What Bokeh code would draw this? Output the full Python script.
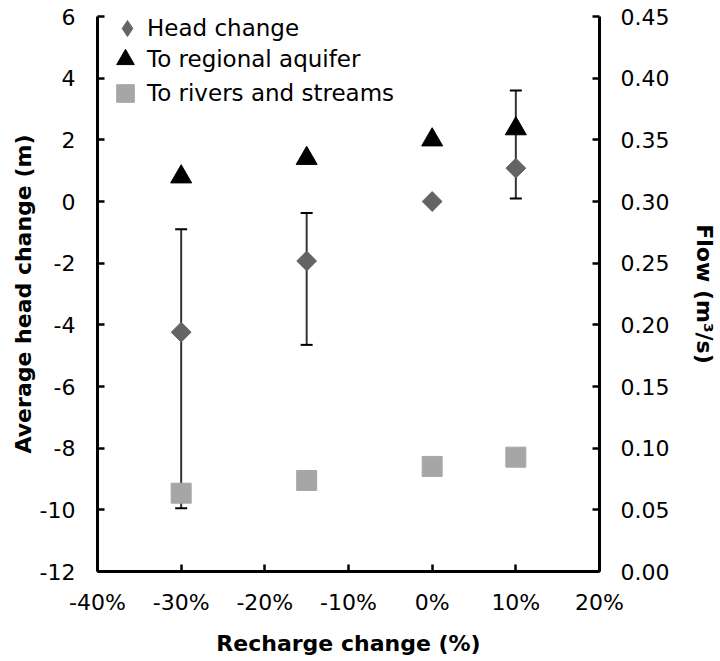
import math
from bokeh.plotting import figure
from bokeh.models import (Range1d, LinearAxis, FixedTicker, NumeralTickFormatter,
                          ColumnDataSource, Whisker, TeeHead, Legend, LegendItem)
from bokeh.embed import file_html
from bokeh.resources import INLINE

# ---- data ----
recharge = [-0.30, -0.15, 0.00, 0.10]
head_change = [-4.24, -1.93, 0.00, 1.08]
head_upper = [-0.90, -0.37, 0.00, 3.60]
head_lower = [-9.95, -4.65, 0.00, 0.10]
to_regional = [0.320, 0.335, 0.350, 0.359]
to_rivers = [0.0635, 0.0738, 0.0852, 0.0927]

x_ticks = [-0.40, -0.30, -0.20, -0.10, 0.00, 0.10, 0.20]
head_ticks = [-12, -10, -8, -6, -4, -2, 0, 2, 4, 6]
flow_ticks = [0.00, 0.05, 0.10, 0.15, 0.20, 0.25, 0.30, 0.35, 0.40, 0.45]

FONT = "DejaVu Sans"
TICK_SIZE = "22px"
TITLE_SIZE = "22px"
LEGEND_SIZE = "23px"
HEAD_COLOR = "#646464"
RIVER_COLOR = "#A6A6A6"

p = figure(width=720, height=661,
           x_range=Range1d(-0.40, 0.20), y_range=Range1d(-12, 6),
           output_backend="svg", toolbar_location=None,
           min_border_left=97, min_border_right=119,
           min_border_top=16, min_border_bottom=90)
p.extra_y_ranges = {"flow": Range1d(0, 0.45)}
p.grid.visible = False
p.outline_line_color = None
p.background_fill_color = "white"
p.border_fill_color = "white"

right_axis = LinearAxis(y_range_name="flow")
p.add_layout(right_axis, "right")

p.xaxis.ticker = FixedTicker(ticks=x_ticks)
p.xaxis.formatter = NumeralTickFormatter(format="0%")
p.yaxis[0].ticker = FixedTicker(ticks=head_ticks)
p.yaxis[0].formatter = NumeralTickFormatter(format="0")
right_axis.ticker = FixedTicker(ticks=flow_ticks)
right_axis.formatter = NumeralTickFormatter(format="0.00")

p.xaxis.axis_label = "Recharge change (%)"
p.yaxis[0].axis_label = "Average head change (m)"
right_axis.axis_label = "Flow (m³/s)"

for ax in [p.xaxis[0], p.yaxis[0], right_axis]:
    ax.axis_line_width = 3
    ax.axis_line_color = "black"
    ax.major_tick_line_width = 2.5
    ax.major_tick_line_color = "black"
    ax.major_tick_in = 7
    ax.major_tick_out = 0
    ax.minor_tick_line_color = None
    ax.major_label_text_font = FONT
    ax.major_label_text_font_size = TICK_SIZE
    ax.major_label_text_color = "black"
    ax.axis_label_text_font = FONT
    ax.axis_label_text_font_size = TITLE_SIZE
    ax.axis_label_text_font_style = "bold"
    ax.axis_label_text_color = "black"

p.xaxis.major_label_standoff = 18
p.xaxis.axis_label_standoff = 13
p.yaxis[0].major_label_standoff = 22
p.yaxis[0].axis_label_standoff = 1
right_axis.major_label_standoff = 21
right_axis.axis_label_standoff = 20

# error bars (only where there is a spread)
eb_idx = [i for i in range(len(recharge)) if head_upper[i] != head_lower[i]]
eb_src = ColumnDataSource(dict(
    base=[recharge[i] for i in eb_idx],
    upper=[head_upper[i] for i in eb_idx],
    lower=[head_lower[i] for i in eb_idx],
))
whisk = Whisker(source=eb_src, base="base", upper="upper", lower="lower",
                line_color="#333333", line_width=2, level="underlay",
                upper_head=TeeHead(size=12, line_width=2, line_color="black"),
                lower_head=TeeHead(size=12, line_width=2, line_color="black"))
p.add_layout(whisk)

# narrow diamonds fully covered by the rotated squares; used for the legend swatch
r_head_leg = p.scatter(recharge, head_change, marker="diamond", size=18,
                       fill_color=HEAD_COLOR, line_color=HEAD_COLOR)
r_head = p.scatter(recharge, head_change, marker="square", angle=math.pi / 4,
                   size=14, fill_color=HEAD_COLOR, line_color=HEAD_COLOR)
r_reg = p.scatter(recharge, to_regional, y_range_name="flow", marker="triangle",
                  size=21, fill_color="black", line_color="black")
r_riv = p.scatter(recharge, to_rivers, y_range_name="flow", marker="square",
                  size=20, fill_color=RIVER_COLOR, line_color=RIVER_COLOR)

def make_legend(label, renderer, box, loc):
    lg = Legend(items=[LegendItem(label=label, renderers=[renderer])], location=loc)
    lg.glyph_width = box
    lg.glyph_height = box
    lg.label_height = box
    lg.spacing = 0
    lg.label_standoff = 0
    lg.padding = 0
    lg.margin = 0
    lg.border_line_color = None
    lg.background_fill_alpha = 0
    lg.label_text_font = FONT
    lg.label_text_font_size = LEGEND_SIZE
    lg.label_text_color = "black"
    p.add_layout(lg)
    return lg

make_legend("Head change", r_head_leg, 40, (10, 523))
make_legend("To regional aquifer", r_reg, 44, (6, 490))
make_legend("To rivers and streams", r_riv, 44, (6, 456))

open("out.html", "w").write(file_html(p, INLINE))
